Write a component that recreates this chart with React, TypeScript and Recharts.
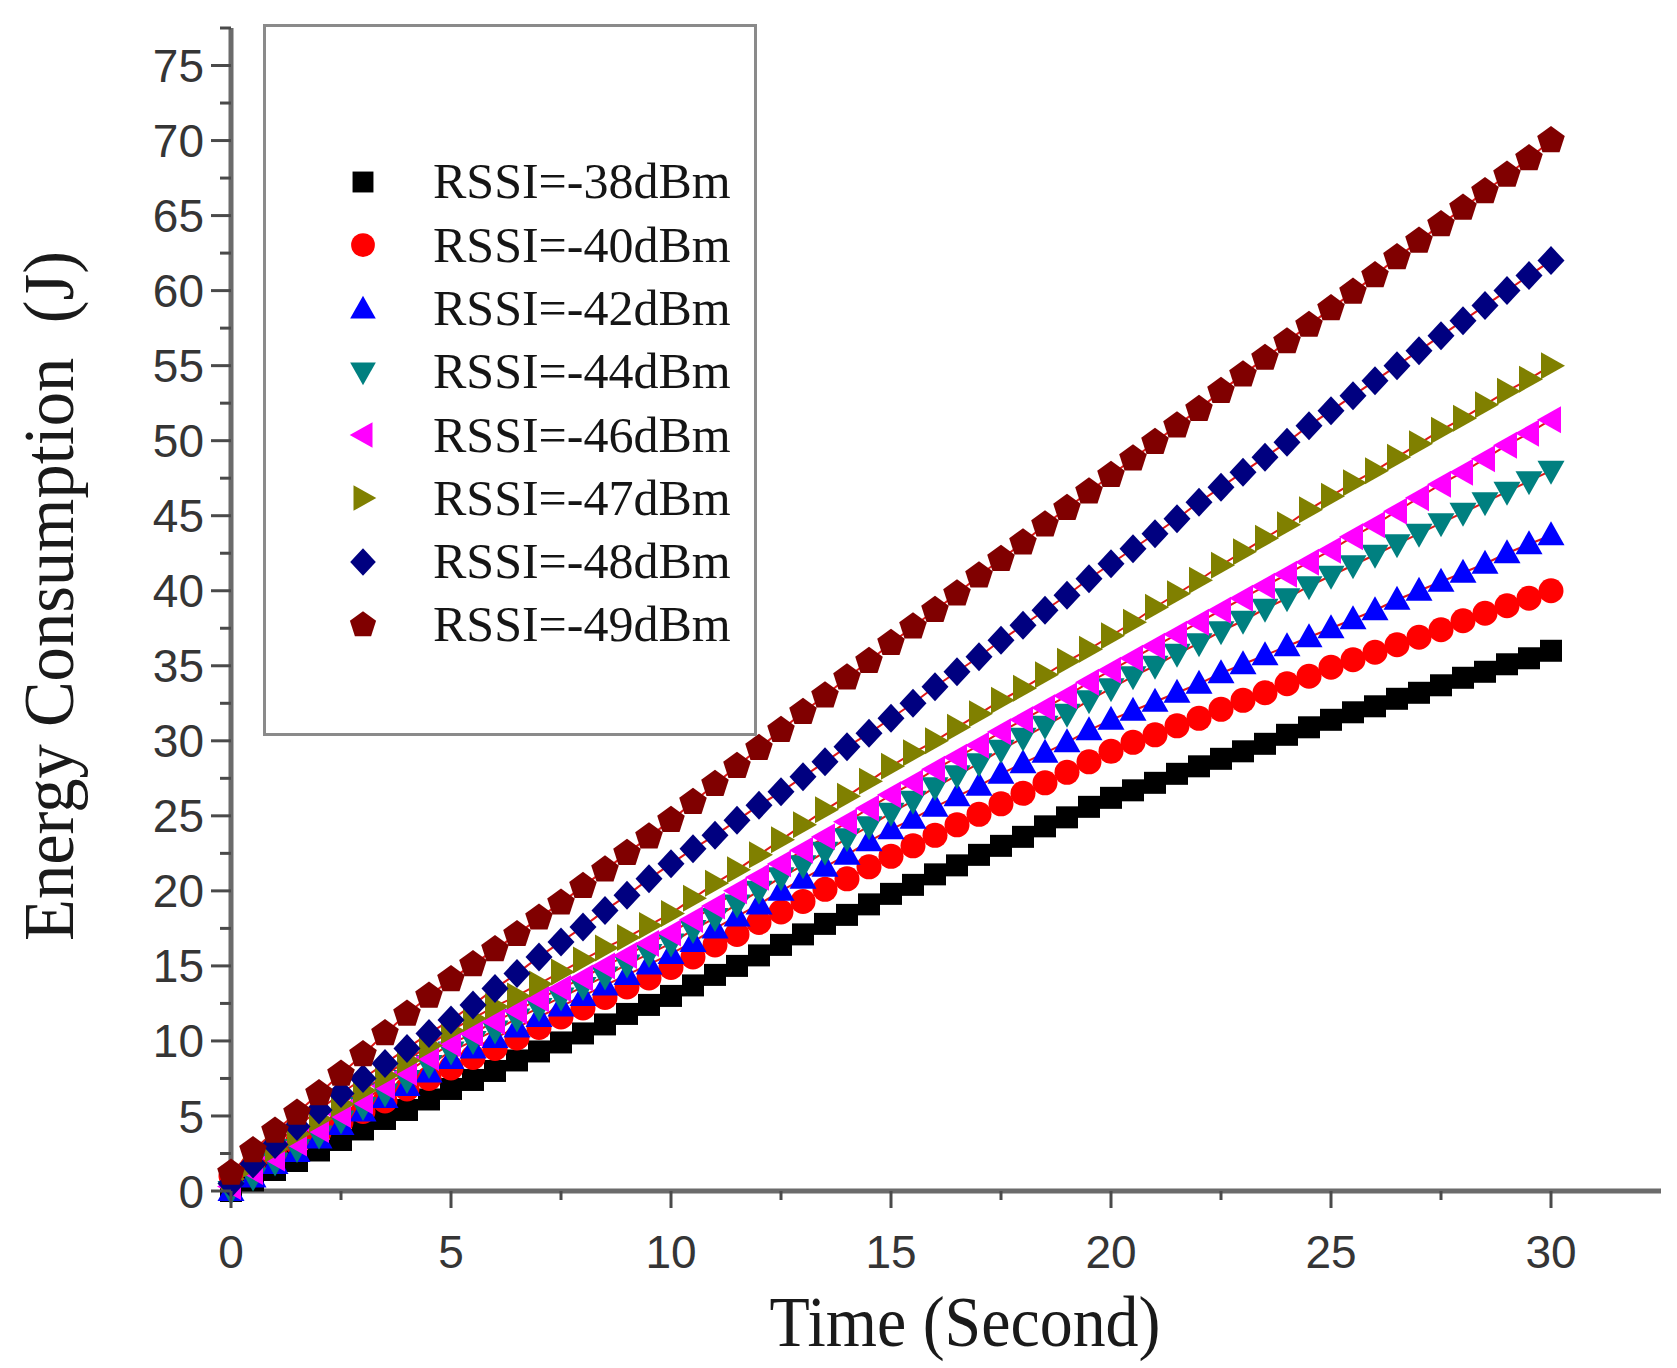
import React from 'react';
import { LineChart, Line, XAxis, YAxis } from 'recharts';

// energy consumption vs time, sampled every 0.5 s
const times = [
  0, 0.5, 1, 1.5, 2, 2.5, 3, 3.5, 4, 4.5, 5, 5.5, 6, 6.5, 7, 7.5, 8, 8.5, 9, 9.5, 10,
  10.5, 11, 11.5, 12, 12.5, 13, 13.5, 14, 14.5, 15, 15.5, 16, 16.5, 17, 17.5, 18, 18.5, 19, 19.5, 20,
  20.5, 21, 21.5, 22, 22.5, 23, 23.5, 24, 24.5, 25, 25.5, 26, 26.5, 27, 27.5, 28, 28.5, 29, 29.5, 30,
];

const rssi38 = [
  0.0, 0.7, 1.4, 2.0, 2.7, 3.4, 4.1, 4.8, 5.4, 6.1, 6.8,
  7.4, 8.0, 8.7, 9.3, 9.9, 10.5, 11.1, 11.8, 12.4, 13.0,
  13.7, 14.4, 15.0, 15.7, 16.4, 17.1, 17.8, 18.4, 19.1, 19.8,
  20.4, 21.1, 21.7, 22.4, 23.0, 23.6, 24.3, 24.9, 25.6, 26.2,
  26.7, 27.2, 27.8, 28.3, 28.8, 29.3, 29.8, 30.4, 30.9, 31.4,
  31.9, 32.3, 32.8, 33.2, 33.7, 34.2, 34.6, 35.1, 35.5, 36.0,
];
const rssi40 = [
  1.0, 1.7, 2.4, 3.2, 3.9, 4.6, 5.3, 6.0, 6.8, 7.5, 8.2,
  8.9, 9.5, 10.2, 10.9, 11.6, 12.2, 12.9, 13.6, 14.2, 14.9,
  15.6, 16.4, 17.1, 17.9, 18.6, 19.3, 20.1, 20.8, 21.6, 22.3,
  23.0, 23.7, 24.4, 25.1, 25.8, 26.5, 27.2, 27.9, 28.6, 29.3,
  29.9, 30.4, 31.0, 31.5, 32.1, 32.7, 33.2, 33.8, 34.3, 34.9,
  35.4, 35.9, 36.4, 36.9, 37.4, 38.0, 38.5, 39.0, 39.5, 40.0,
];
const rssi42 = [
  0.0, 0.9, 1.8, 2.6, 3.5, 4.4, 5.3, 6.2, 7.0, 7.9, 8.8,
  9.5, 10.2, 10.9, 11.6, 12.3, 13.0, 13.7, 14.4, 15.1, 15.8,
  16.6, 17.5, 18.3, 19.1, 20.0, 20.8, 21.6, 22.4, 23.3, 24.1,
  24.8, 25.6, 26.3, 27.0, 27.8, 28.5, 29.2, 29.9, 30.7, 31.4,
  32.0, 32.6, 33.2, 33.8, 34.5, 35.1, 35.7, 36.3, 36.9, 37.5,
  38.1, 38.7, 39.4, 40.0, 40.6, 41.2, 41.8, 42.5, 43.1, 43.7,
];
const rssi44 = [
  0.0, 0.9, 1.9, 2.8, 3.7, 4.7, 5.6, 6.5, 7.4, 8.4, 9.3,
  10.0, 10.7, 11.5, 12.2, 12.9, 13.6, 14.3, 15.1, 15.8, 16.5,
  17.4, 18.2, 19.1, 20.0, 20.9, 21.7, 22.6, 23.5, 24.3, 25.2,
  26.0, 26.9, 27.7, 28.5, 29.4, 30.2, 31.0, 31.8, 32.7, 33.5,
  34.3, 35.0, 35.8, 36.5, 37.3, 38.0, 38.8, 39.5, 40.3, 41.0,
  41.7, 42.4, 43.1, 43.8, 44.5, 45.2, 45.9, 46.6, 47.3, 48.0,
];
const rssi46 = [
  0.3, 1.3, 2.2, 3.2, 4.1, 5.1, 6.0, 7.0, 7.9, 8.9, 9.8,
  10.5, 11.3, 12.0, 12.8, 13.5, 14.2, 15.0, 15.7, 16.5, 17.2,
  18.1, 19.0, 20.0, 20.9, 21.8, 22.7, 23.6, 24.6, 25.5, 26.4,
  27.2, 28.1, 28.9, 29.7, 30.6, 31.4, 32.2, 33.0, 33.9, 34.7,
  35.5, 36.3, 37.1, 37.9, 38.7, 39.5, 40.3, 41.1, 41.9, 42.7,
  43.6, 44.4, 45.3, 46.2, 47.1, 47.9, 48.8, 49.7, 50.5, 51.4,
];
const rssi47 = [
  0.8, 1.8, 2.8, 3.8, 4.8, 5.8, 6.7, 7.7, 8.7, 9.7, 10.7,
  11.5, 12.3, 13.0, 13.8, 14.6, 15.4, 16.2, 16.9, 17.7, 18.5,
  19.5, 20.5, 21.4, 22.4, 23.4, 24.4, 25.4, 26.3, 27.3, 28.3,
  29.2, 30.0, 30.9, 31.8, 32.7, 33.5, 34.4, 35.3, 36.1, 37.0,
  37.9, 38.9, 39.8, 40.7, 41.7, 42.6, 43.5, 44.4, 45.4, 46.3,
  47.2, 48.0, 48.9, 49.8, 50.7, 51.5, 52.4, 53.3, 54.1, 55.0,
];
const rssi48 = [
  0.5, 1.8, 3.1, 4.3, 5.4, 6.5, 7.5, 8.5, 9.5, 10.5, 11.4,
  12.4, 13.5, 14.5, 15.6, 16.6, 17.6, 18.7, 19.7, 20.8, 21.8,
  22.8, 23.7, 24.7, 25.7, 26.6, 27.6, 28.6, 29.6, 30.5, 31.5,
  32.5, 33.6, 34.6, 35.6, 36.7, 37.7, 38.7, 39.7, 40.8, 41.8,
  42.8, 43.8, 44.8, 45.9, 46.9, 47.9, 48.9, 49.9, 51.0, 52.0,
  53.0, 54.0, 55.0, 56.0, 57.0, 58.0, 59.0, 60.0, 61.0, 62.0,
];
const rssi49 = [
  1.2, 2.7, 4.0, 5.2, 6.5, 7.8, 9.1, 10.5, 11.8, 13.0, 14.1,
  15.1, 16.1, 17.1, 18.2, 19.2, 20.3, 21.4, 22.5, 23.6, 24.7,
  25.9, 27.1, 28.3, 29.5, 30.7, 31.9, 33.0, 34.2, 35.3, 36.5,
  37.6, 38.7, 39.8, 41.0, 42.1, 43.2, 44.4, 45.5, 46.6, 47.7,
  48.8, 49.9, 51.0, 52.1, 53.3, 54.4, 55.5, 56.6, 57.7, 58.8,
  59.9, 61.0, 62.2, 63.3, 64.4, 65.5, 66.6, 67.7, 68.8, 70.0,
];

const xTicks = [0, 2.5, 5, 7.5, 10, 12.5, 15, 17.5, 20, 22.5, 25, 27.5, 30];
const yTicks = [
  0, 2.5, 5, 7.5, 10, 12.5, 15, 17.5, 20, 22.5, 25, 27.5, 30, 32.5, 35, 37.5, 40,
  42.5, 45, 47.5, 50, 52.5, 55, 57.5, 60, 62.5, 65, 67.5, 70, 72.5, 75, 77.5,
];

type Shape = 'square' | 'circle' | 'up' | 'down' | 'left' | 'right' | 'diamond' | 'pentagon';

const seriesList: { key: string; name: string; color: string; shape: Shape; values: number[] }[] = [
  { key: 's38', name: 'RSSI=-38dBm', color: '#000000', shape: 'square', values: rssi38 },
  { key: 's40', name: 'RSSI=-40dBm', color: '#ff0000', shape: 'circle', values: rssi40 },
  { key: 's42', name: 'RSSI=-42dBm', color: '#0000ff', shape: 'up', values: rssi42 },
  { key: 's44', name: 'RSSI=-44dBm', color: '#008080', shape: 'down', values: rssi44 },
  { key: 's46', name: 'RSSI=-46dBm', color: '#ff00ff', shape: 'left', values: rssi46 },
  { key: 's47', name: 'RSSI=-47dBm', color: '#808000', shape: 'right', values: rssi47 },
  { key: 's48', name: 'RSSI=-48dBm', color: '#000080', shape: 'diamond', values: rssi48 },
  { key: 's49', name: 'RSSI=-49dBm', color: '#800000', shape: 'pentagon', values: rssi49 },
];

const chartData = times.map((t, i) => {
  const row: Record<string, number> = { t };
  seriesList.forEach((s) => {
    row[s.key] = s.values[i];
  });
  return row;
});

const CHART_W = 1669;
const CHART_H = 1360;
const Y_AXIS_W = 223;
const X_AXIS_H = 177;
const PLOT_LEFT = Y_AXIS_W;
const PLOT_BOTTOM = CHART_H - X_AXIS_H;
const AXIS_COLOR = '#6b6b6b';
const TICK_COLOR = '#4a4a4a';
const SANS = '"Liberation Sans", Arial, sans-serif';
const SERIF = '"Liberation Serif", "Times New Roman", serif';

function Marker({ shape, cx, cy, color, scale = 1 }: { shape: Shape; cx: number; cy: number; color: string; scale?: number }) {
  const k = scale;
  const pts = (arr: number[][]) => arr.map(([dx, dy]) => `${cx + dx * k},${cy + dy * k}`).join(' ');
  switch (shape) {
    case 'square':
      return <rect x={cx - 11 * k} y={cy - 11 * k} width={22 * k} height={22 * k} fill={color} />;
    case 'circle':
      return <circle cx={cx} cy={cy} r={12.5 * k} fill={color} />;
    case 'up':
      return <polygon points={pts([[0, -14], [13.5, 10], [-13.5, 10]])} fill={color} />;
    case 'down':
      return <polygon points={pts([[0, 14], [13.5, -10], [-13.5, -10]])} fill={color} />;
    case 'left':
      return <polygon points={pts([[-14, 0], [10, -13.5], [10, 13.5]])} fill={color} />;
    case 'right':
      return <polygon points={pts([[14, 0], [-10, -13.5], [-10, 13.5]])} fill={color} />;
    case 'diamond':
      return <polygon points={pts([[0, -14.5], [13.5, 0], [0, 14.5], [-13.5, 0]])} fill={color} />;
    case 'pentagon': {
      const p: number[][] = [];
      for (let j = 0; j < 5; j++) {
        const a = (-90 + j * 72) * (Math.PI / 180);
        p.push([14.5 * Math.cos(a), 14.5 * Math.sin(a)]);
      }
      return <polygon points={pts(p)} fill={color} />;
    }
  }
  return null;
}

const XTick = (props: any) => {
  const { x, payload } = props;
  const v = payload.value as number;
  const major = v % 5 === 0;
  return (
    <g>
      <line x1={x} x2={x} y1={PLOT_BOTTOM} y2={PLOT_BOTTOM + (major ? 17 : 9)} stroke={TICK_COLOR} strokeWidth={3} />
      {major && (
        <text x={x} y={PLOT_BOTTOM + 77} textAnchor="middle" fontFamily={SANS} fontSize={46} fill="#353535">
          {v}
        </text>
      )}
    </g>
  );
};

const YTick = (props: any) => {
  const { y, payload } = props;
  const v = payload.value as number;
  const major = v % 5 === 0;
  return (
    <g>
      <line x1={PLOT_LEFT - (major ? 20 : 11)} x2={PLOT_LEFT} y1={y} y2={y} stroke={TICK_COLOR} strokeWidth={3} />
      {major && (
        <text x={PLOT_LEFT - 27} y={y} dy="0.36em" textAnchor="end" fontFamily={SANS} fontSize={46} fill="#353535">
          {v}
        </text>
      )}
    </g>
  );
};

function LegendBox() {
  return (
    <div
      style={{
        position: 'absolute',
        left: 255,
        top: 15.5,
        width: 494,
        height: 712,
        boxSizing: 'border-box',
        border: '3px solid #8a8a8a',
        background: '#ffffff',
      }}
    >
      {seriesList.map((s, i) => {
        const center = 158.5 + i * 63.3 - 3;
        return (
          <div key={s.key} style={{ position: 'absolute', left: 0, top: center - 31.65, height: 63.3, width: '100%' }}>
            <svg width={34} height={34} style={{ position: 'absolute', left: 80, top: 31.65 - 17 }}>
              <Marker shape={s.shape} cx={17} cy={17} color={s.color} scale={0.95} />
            </svg>
            <span
              style={{
                position: 'absolute',
                left: 167,
                top: 0,
                lineHeight: '63.3px',
                fontFamily: SERIF,
                fontSize: 50,
                color: '#151515',
                whiteSpace: 'nowrap',
              }}
            >
              {s.name}
            </span>
          </div>
        );
      })}
    </div>
  );
}

export default function App() {
  return (
    <div style={{ position: 'relative', width: CHART_W, height: CHART_H }}>
      <LineChart width={CHART_W} height={CHART_H} data={chartData} margin={{ top: 20, right: 16, bottom: 0, left: 0 }}>
        <XAxis
          dataKey="t"
          type="number"
          domain={[0, 32.5]}
          ticks={xTicks}
          interval={0}
          height={X_AXIS_H}
          axisLine={{ stroke: AXIS_COLOR, strokeWidth: 5 }}
          tickLine={false}
          tick={<XTick />}
          label={{
            content: () => (
              <text x={957} y={1338} textAnchor="middle" fontFamily={SERIF} fontSize={72} fill="#1a1a1a" textLength={391} lengthAdjust="spacingAndGlyphs">
                Time (Second)
              </text>
            ),
          }}
        />
        <YAxis
          type="number"
          domain={[0, 77.5]}
          ticks={yTicks}
          interval={0}
          width={Y_AXIS_W}
          axisLine={{ stroke: AXIS_COLOR, strokeWidth: 5 }}
          tickLine={false}
          tick={<YTick />}
          label={{
            content: () => (
              <text
                x={65}
                y={588}
                transform="rotate(-90, 65, 588)"
                textAnchor="middle"
                fontFamily={SERIF}
                fontSize={72}
                fill="#1a1a1a"
                style={{ whiteSpace: 'pre' }}
                textLength={690}
                lengthAdjust="spacingAndGlyphs"
              >
                {'Energy Consumption  (J)'}
              </text>
            ),
          }}
        />
        {seriesList.flatMap((s) => [
          <Line
            key={`${s.key}-m`}
            dataKey={s.key}
            stroke="none"
            isAnimationActive={false}
            activeDot={false}
            dot={(p: any) => <Marker key={`${s.key}-d-${p.index}`} shape={s.shape} cx={p.cx} cy={p.cy} color={s.color} />}
          />,
          <Line
            key={`${s.key}-l`}
            dataKey={s.key}
            stroke="#e01818"
            strokeWidth={2}
            dot={false}
            activeDot={false}
            isAnimationActive={false}
          />,
        ])}
      </LineChart>
      <LegendBox />
    </div>
  );
}
